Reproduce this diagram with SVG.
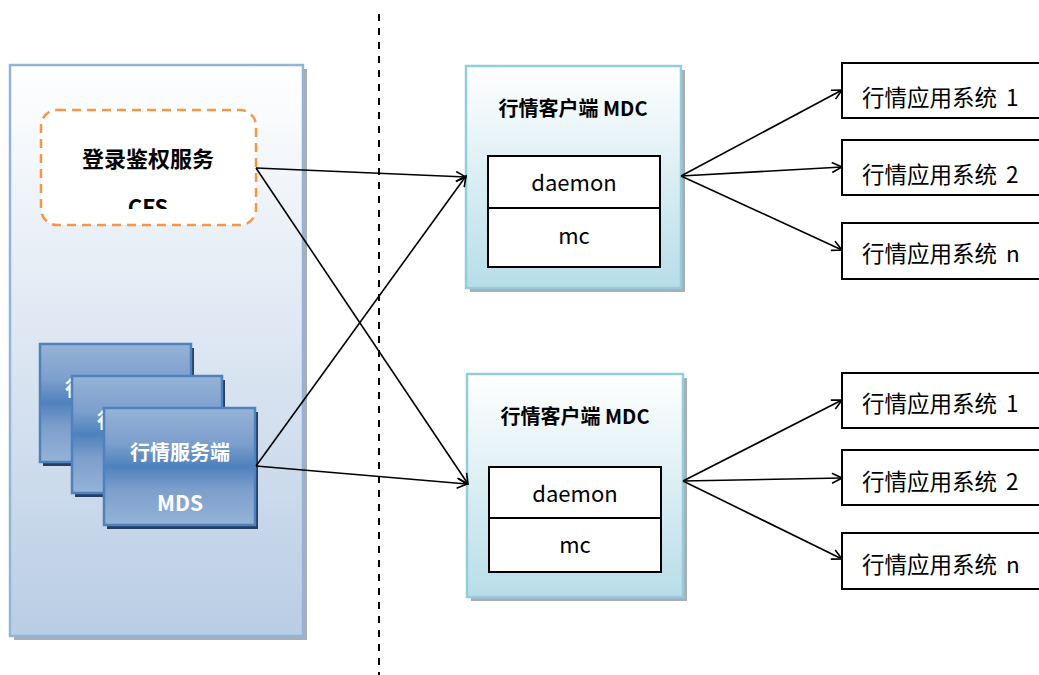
<svg xmlns="http://www.w3.org/2000/svg" width="1039" height="675" viewBox="0 0 1039 675">
<defs>
<linearGradient id="gPanel" x1="0" y1="0" x2="0" y2="1">
<stop offset="0" stop-color="#ffffff"/>
<stop offset="1" stop-color="#b9cde5"/>
</linearGradient>
<linearGradient id="gMdc" x1="0" y1="0" x2="0" y2="1">
<stop offset="0" stop-color="#ffffff"/>
<stop offset="1" stop-color="#b7dde8"/>
</linearGradient>
<linearGradient id="gMds" x1="0" y1="0" x2="0" y2="1">
<stop offset="0" stop-color="#95b3d7"/>
<stop offset="0.3" stop-color="#7d9fcd"/>
<stop offset="0.5" stop-color="#4f81bd"/>
<stop offset="0.7" stop-color="#7d9fcd"/>
<stop offset="1" stop-color="#95b3d7"/>
</linearGradient>
<clipPath id="cfsClip"><rect x="41" y="110" width="215" height="99"/></clipPath>
<marker id="arr" viewBox="0 0 12 12" refX="11" refY="6" markerWidth="12" markerHeight="12" markerUnits="userSpaceOnUse" orient="auto">
<path d="M1,1 L11,6 L1,11" fill="none" stroke="#000" stroke-width="1.6"/>
</marker>
<style>
.cjk{font-family:"Noto Sans CJK SC","Liberation Sans",sans-serif;}
.title{font-size:20px;font-weight:bold;fill:#000;text-anchor:middle;}
.cfst{font-size:22px;font-weight:bold;fill:#000;text-anchor:middle;}
.mdst{font-size:20px;font-weight:bold;fill:#fff;text-anchor:middle;}
.mdsl{font-size:21px;font-weight:bold;fill:#fff;text-anchor:middle;}
.lbl{font-size:22.5px;fill:#000;word-spacing:4px;}
.inner{font-size:22px;fill:#000;text-anchor:middle;}
.mdsbox{fill:url(#gMds);stroke:#4f81bd;stroke-width:2.5;}
.mdsshadow{fill:#243f60;}
.mdcbox{fill:url(#gMdc);stroke:#92cddc;stroke-width:2.5;}
.shadow{fill:#a6aeb8;}
.plain{fill:#fff;stroke:#000;stroke-width:2;}
.conn{stroke:#000;stroke-width:1.6;fill:none;marker-end:url(#arr);}
</style>
</defs>
<rect width="1039" height="675" fill="#fff"/>

<g id="server-panel">
<rect class="shadow" x="14" y="69" width="293" height="571"/>
<rect x="10" y="65" width="293" height="571" fill="url(#gPanel)" stroke="#95b3d7" stroke-width="2.5"/>
</g>

<g id="cfs">
<rect x="41" y="110" width="215" height="115" rx="16" fill="#fff" stroke="#f79646" stroke-width="2.5" stroke-dasharray="9,6"/>
<text class="cjk cfst" x="148" y="167">登录鉴权服务</text>
<text class="cjk cfst" x="148" y="216" clip-path="url(#cfsClip)">CFS</text>
</g>

<g id="mds-1">
<rect class="mdsshadow" x="43" y="348" width="151" height="118"/>
<rect class="mdsbox" x="40" y="344" width="151" height="118"/>
<text class="cjk mdst" x="115" y="396">行情服务端</text>
<text class="cjk mdsl" x="115" y="447">MDS</text>
</g>
<g id="mds-2">
<rect class="mdsshadow" x="75" y="380" width="150" height="117"/>
<rect class="mdsbox" x="72" y="376" width="150" height="117"/>
<text class="cjk mdst" x="147" y="428">行情服务端</text>
<text class="cjk mdsl" x="147" y="479">MDS</text>
</g>
<g id="mds-3">
<rect class="mdsshadow" x="107" y="412" width="151" height="117"/>
<rect class="mdsbox" x="104" y="408" width="151" height="117"/>
<text class="cjk mdst" x="180" y="460">行情服务端</text>
<text class="cjk mdsl" x="180" y="511">MDS</text>
</g>

<g id="divider">
<line x1="379" y1="14" x2="379" y2="675" stroke="#000" stroke-width="2" stroke-dasharray="7,7"/>
</g>

<g id="mdc-1">
<rect class="shadow" x="470" y="70" width="215" height="222"/>
<rect class="mdcbox" x="466" y="66" width="215" height="222"/>
<text class="cjk title" x="573" y="116">行情客户端 MDC</text>
<rect class="plain" x="488" y="156" width="172" height="111"/>
<line x1="488" y1="208" x2="660" y2="208" stroke="#000" stroke-width="2"/>
<text class="cjk inner" x="574" y="191">daemon</text>
<text class="cjk inner" x="574" y="244">mc</text>
</g>

<g id="mdc-2">
<rect class="shadow" x="471" y="378" width="216" height="223"/>
<rect class="mdcbox" x="467" y="374" width="216" height="223"/>
<text class="cjk title" x="575" y="424">行情客户端 MDC</text>
<rect class="plain" x="489" y="467" width="172" height="105"/>
<line x1="489" y1="518" x2="661" y2="518" stroke="#000" stroke-width="2"/>
<text class="cjk inner" x="575" y="502">daemon</text>
<text class="cjk inner" x="575" y="553">mc</text>
</g>

<g id="app-1a"><rect class="plain" x="842" y="63" width="200" height="55"/><text class="cjk lbl" x="862" y="106">行情应用系统 1</text></g>
<g id="app-2a"><rect class="plain" x="842" y="140" width="200" height="55"/><text class="cjk lbl" x="862" y="183">行情应用系统 2</text></g>
<g id="app-na"><rect class="plain" x="842" y="223" width="200" height="56"/><text class="cjk lbl" x="862" y="262">行情应用系统 n</text></g>
<g id="app-1b"><rect class="plain" x="842" y="373" width="200" height="55"/><text class="cjk lbl" x="862" y="412">行情应用系统 1</text></g>
<g id="app-2b"><rect class="plain" x="842" y="450" width="200" height="55"/><text class="cjk lbl" x="862" y="490">行情应用系统 2</text></g>
<g id="app-nb"><rect class="plain" x="842" y="533" width="200" height="56"/><text class="cjk lbl" x="862" y="573">行情应用系统 n</text></g>

<g id="connectors">
<line class="conn" x1="256" y1="168" x2="466" y2="177"/>
<line class="conn" x1="256" y1="168" x2="468" y2="484"/>
<line class="conn" x1="256" y1="466" x2="466" y2="176"/>
<line class="conn" x1="256" y1="466" x2="467" y2="484"/>
<line class="conn" x1="681" y1="176" x2="842" y2="90"/>
<line class="conn" x1="681" y1="176" x2="842" y2="167"/>
<line class="conn" x1="681" y1="176" x2="842" y2="250"/>
<line class="conn" x1="683" y1="481" x2="842" y2="400"/>
<line class="conn" x1="683" y1="481" x2="842" y2="478"/>
<line class="conn" x1="683" y1="481" x2="842" y2="559"/>
</g>
</svg>
